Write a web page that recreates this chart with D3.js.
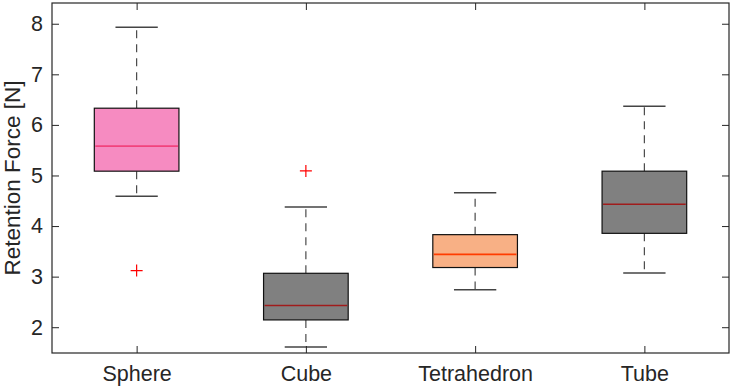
<!DOCTYPE html>
<html>
<script src="https://d3js.org/d3.v7.min.js"></script>
<style>
  body { margin: 0; background: #fff; }
  text { font-family: "Liberation Sans", Arial, Helvetica, sans-serif; fill: #262626; }
</style>
<body>
<svg width="732" height="390"></svg>
<script>
// box plot stats
var categories   = ["Sphere", "Cube", "Tetrahedron", "Tube"],
    lowWhisker   = [4.59, 1.61, 2.74, 3.07],
    q1           = [5.085, 2.144, 3.18, 3.856],
    medians      = [5.58, 2.43, 3.44, 4.43],
    q3           = [6.33, 3.066, 3.83, 5.085],
    highWhisker  = [7.93, 4.375, 4.66, 6.37],
    outliers     = [[3.12], [5.09], [], []],
    yTicks       = [2, 3, 4, 5, 6, 7, 8];

var fills   = ["#f68bc1", "#808080", "#f8b085", "#808080"],
    medCols = ["#f2437d", "#a01c1c", "#ff3c00", "#a01c1c"];

var svg = d3.select("svg"),
    margin = {top: 3, right: 3, bottom: 37, left: 52},
    W = +svg.attr("width") - margin.left - margin.right,
    H = +svg.attr("height") - margin.top - margin.bottom,
    g = svg.append("g").attr("transform", "translate(" + margin.left + "," + margin.top + ")");

var x = d3.scaleLinear().domain([0.5, 4.5]).range([0, W]),
    y = d3.scaleLinear().domain([1.49, 8.41]).range([H, 0]);

var boxW = 0.25, capW = 0.125; // half widths, in x units

var rows = categories.map(function(c, i) {
  return {i: i, pos: i + 1, lo: lowWhisker[i], q1: q1[i], med: medians[i], q3: q3[i], hi: highWhisker[i], out: outliers[i]};
});

var box = g.selectAll(".box").data(rows).enter().append("g").attr("class", "box");

// dashed whiskers
box.append("line")
  .attr("x1", d => x(d.pos)).attr("x2", d => x(d.pos))
  .attr("y1", d => y(d.q3)).attr("y2", d => y(d.hi))
  .attr("stroke", "#4a4a4a").attr("stroke-width", 1.2).attr("stroke-dasharray", "8,6");
box.append("line")
  .attr("x1", d => x(d.pos)).attr("x2", d => x(d.pos))
  .attr("y1", d => y(d.q1)).attr("y2", d => y(d.lo))
  .attr("stroke", "#4a4a4a").attr("stroke-width", 1.2).attr("stroke-dasharray", "8,6");

// caps
["lo", "hi"].forEach(function(k) {
  box.append("line")
    .attr("x1", d => x(d.pos - capW)).attr("x2", d => x(d.pos + capW))
    .attr("y1", d => y(d[k])).attr("y2", d => y(d[k]))
    .attr("stroke", "#444").attr("stroke-width", 1.5);
});

box.append("rect")
  .attr("x", d => x(d.pos - boxW))
  .attr("width", d => x(d.pos + boxW) - x(d.pos - boxW))
  .attr("y", d => y(d.q3))
  .attr("height", d => y(d.q1) - y(d.q3))
  .attr("fill", d => fills[d.i])
  .attr("stroke", "#111").attr("stroke-width", 1.2);

box.append("line")
  .attr("x1", d => x(d.pos - boxW) + 1).attr("x2", d => x(d.pos + boxW) - 1)
  .attr("y1", d => y(d.med)).attr("y2", d => y(d.med))
  .attr("stroke", d => medCols[d.i]).attr("stroke-width", 1.6);

// outliers as red plus signs
box.each(function(d) {
  d3.select(this).selectAll(".out").data(d.out).enter().append("path")
    .attr("class", "out")
    .attr("d", v => "M" + (x(d.pos) - 6) + "," + y(v) + "h12M" + x(d.pos) + "," + (y(v) - 6) + "v12")
    .attr("stroke", "#ff0000").attr("stroke-width", 1.2).attr("fill", "none");
});

// axes, ticks pointing inward like matlab
function styleAxis(sel) {
  sel.select(".domain").remove();
  sel.selectAll("line").attr("stroke", "#262626");
  sel.selectAll("text").attr("fill", "#262626").style("font-size", "21.5px");
}

g.append("g")
  .call(d3.axisLeft(y).tickValues(yTicks).tickSize(-7).tickPadding(9).tickFormat(d3.format("d")))
  .call(styleAxis);
g.append("g").attr("transform", "translate(" + W + ",0)")
  .call(d3.axisRight(y).tickValues(yTicks).tickSize(-7).tickFormat(""))
  .call(styleAxis);
g.append("g").attr("transform", "translate(0," + H + ")")
  .call(d3.axisBottom(x).tickValues([1, 2, 3, 4]).tickSize(-7).tickPadding(13).tickFormat(d => categories[d - 1]))
  .call(styleAxis);
g.append("g")
  .call(d3.axisTop(x).tickValues([1, 2, 3, 4]).tickSize(-7).tickFormat(""))
  .call(styleAxis);

g.append("rect").attr("width", W).attr("height", H)
  .attr("fill", "none").attr("stroke", "#262626").attr("stroke-width", 1.2);

svg.append("text")
  .attr("transform", "translate(" + 20 + "," + (margin.top + H / 2) + ") rotate(-90)")
  .attr("text-anchor", "middle")
  .style("font-size", "22.5px")
  .text("Retention Force [N]");
</script>
</body>
</html>
